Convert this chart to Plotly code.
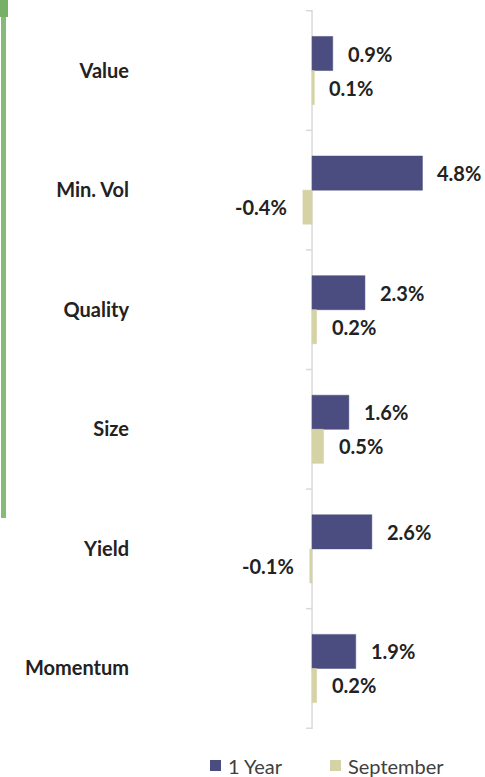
import plotly.graph_objects as go

# Factor returns
factors = ["Value", "Min. Vol", "Quality", "Size", "Yield", "Momentum"]
one_year = [0.9, 4.8, 2.3, 1.6, 2.6, 1.9]
september = [0.1, -0.4, 0.2, 0.5, -0.1, 0.2]
series_names = ["1 Year", "September"]

BLUE = "#4B4C7F"
KHAKI = "#D5D3A6"
TEXT = "#222222"
FONT = "Lato"

# plot-area geometry (pixels) used for paper-referenced decorations
W, H = 485, 777
ML, MR, MT, MB = 140, 0, 10, 48
PW, PH = W - ML - MR, H - MT - MB


def px_x(px):
    return (px - ML) / PW


def px_y(py):
    return (H - MB - py) / PH


fig = go.Figure()
colors = [BLUE, KHAKI]
for name, vals, col in zip(series_names, [one_year, september], colors):
    fig.add_trace(go.Bar(
        name=name, y=factors, x=vals, orientation="h",
        marker=dict(color=col, line=dict(color=col, width=0.5)),
        hoverinfo="x+y", showlegend=False,
    ))

# value labels beside each bar end
annotations = []
for k, vals in enumerate([one_year, september]):
    dy = -0.142 if k == 0 else 0.142
    for i, v in enumerate(vals):
        annotations.append(dict(
            x=v, y=i + dy, xref="x", yref="y",
            text=f"{v:.1f}%", showarrow=False,
            xanchor="left" if v >= 0 else "right",
            xshift=13 if v >= 0 else -14,
            yanchor="middle",
            font=dict(family=FONT, size=20, color=TEXT, weight="bold"),
        ))

shapes = []
# vertical category axis at zero
shapes.append(dict(type="line", xref="x", yref="paper", x0=0, x1=0, y0=0, y1=1,
                   line=dict(color="#D9D9D9", width=1.5), layer="below"))
# boundary ticks on the zero axis
for b in range(len(factors) + 1):
    shapes.append(dict(type="line", xref="x", yref="y", xsizemode="pixel", xanchor=0,
                       x0=-6, x1=0, y0=b - 0.5, y1=b - 0.5,
                       line=dict(color="#D9D9D9", width=1.5)))
# green side rule
shapes.append(dict(type="rect", xref="paper", yref="paper",
                   x0=px_x(0), x1=px_x(8), y0=px_y(17), y1=px_y(-2),
                   fillcolor="#77B067", line=dict(width=0)))
shapes.append(dict(type="rect", xref="paper", yref="paper",
                   x0=px_x(1), x1=px_x(6), y0=px_y(518), y1=px_y(17),
                   fillcolor="#86BA77", line=dict(width=0)))

# legend: colour swatch followed by series name
legend_pos = [210, 330]
for name, col, lx in zip(series_names, colors, legend_pos):
    shapes.append(dict(type="rect", xref="paper", yref="paper",
                       x0=px_x(lx), x1=px_x(lx + 11), y0=px_y(771), y1=px_y(760),
                       fillcolor=col, line=dict(width=0)))
    annotations.append(dict(
        x=px_x(lx + 16), y=px_y(765.5), xref="paper", yref="paper",
        text=name, showarrow=False, xanchor="left", yanchor="middle",
        font=dict(family=FONT, size=20, color="#404040"),
    ))

fig.update_layout(
    width=W, height=H,
    margin=dict(l=ML, r=MR, t=MT, b=MB),
    paper_bgcolor="white", plot_bgcolor="white",
    barmode="group", bargap=0.43, bargroupgap=0,
    xaxis=dict(visible=False, range=[-7.48, 7.52], fixedrange=True),
    yaxis=dict(
        categoryorder="array", categoryarray=factors, autorange="reversed",
        showgrid=False, zeroline=False, showline=False, ticks="",
        ticklabelstandoff=10,
        tickfont=dict(family=FONT, size=20, color=TEXT, weight="bold"),
        fixedrange=True,
    ),
    annotations=annotations,
    shapes=shapes,
    showlegend=False,
)

fig.write_html("out.html")
